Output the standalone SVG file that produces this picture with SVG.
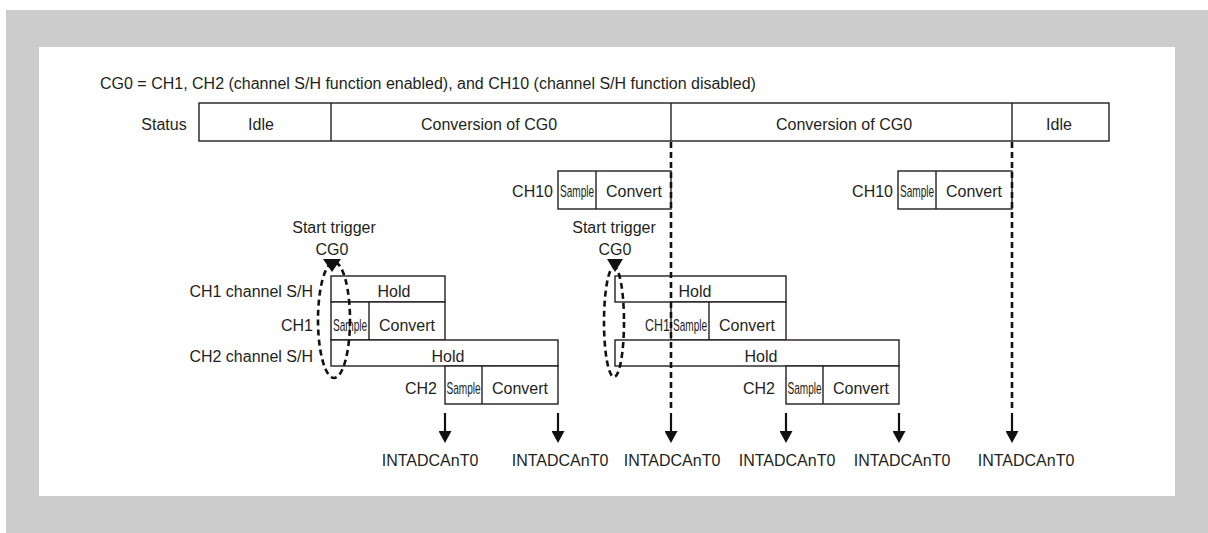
<svg xmlns="http://www.w3.org/2000/svg" width="1208" height="533" viewBox="0 0 1208 533">
<style>
text{font-family:"Liberation Sans",Arial,sans-serif;font-size:16px;fill:#231f20}
.m{text-anchor:middle}
.e{text-anchor:end}
.b{fill:#fff;stroke:#231f20;stroke-width:1.4}
.l{stroke:#231f20;stroke-width:1.4;fill:none}
.d{stroke:#111;stroke-width:2.6;stroke-dasharray:6 4;fill:none}
.a{stroke:#111;stroke-width:2.2;fill:none;marker-end:url(#ah)}
</style>
<defs>
<marker id="ah" markerWidth="12" markerHeight="13" refX="7" refY="6.5" orient="auto" markerUnits="userSpaceOnUse" viewBox="0 0 12 13">
<path d="M0,0 L12,6.5 L0,13 Z" fill="#111"/>
</marker>
</defs>
<rect x="6" y="10" width="1202" height="523" fill="#cccccc"/>
<rect x="39" y="47" width="1136" height="449" fill="#ffffff"/>
<text x="100" y="89">CG0 = CH1, CH2 (channel S/H function enabled), and CH10 (channel S/H function disabled)</text>

<g id="status">
<text class="m" x="164" y="130">Status</text>
<rect class="b" x="199" y="103" width="910" height="38"/>
<line class="l" x1="331" y1="103" x2="331" y2="141"/>
<line class="l" x1="671" y1="103" x2="671" y2="141"/>
<line class="l" x1="1012" y1="103" x2="1012" y2="141"/>
<text class="m" x="261" y="130">Idle</text>
<text class="m" x="489" y="130">Conversion of CG0</text>
<text class="m" x="844" y="130">Conversion of CG0</text>
<text class="m" x="1059" y="130">Idle</text>
</g>

<g id="ch10-a">
<text class="e" x="553" y="197">CH10</text>
<rect class="b" x="558" y="171" width="113" height="38"/>
<line class="l" x1="596" y1="171" x2="596" y2="209"/>
<text transform="translate(560,197) scale(0.63,1)">Sample</text>
<text class="m" x="634" y="197">Convert</text>
</g>

<g id="ch10-b">
<text class="e" x="893" y="197">CH10</text>
<rect class="b" x="898" y="171" width="114" height="38"/>
<line class="l" x1="936" y1="171" x2="936" y2="209"/>
<text transform="translate(900,197) scale(0.63,1)">Sample</text>
<text class="m" x="974" y="197">Convert</text>
</g>

<g id="group-left">
<text class="m" x="334" y="233">Start trigger</text>
<text class="m" x="332" y="255">CG0</text>
<text class="e" x="313" y="297">CH1 channel S/H</text>
<rect class="b" x="331" y="276" width="114" height="26"/>
<text class="m" x="394" y="297">Hold</text>
<text class="e" x="313" y="331">CH1</text>
<rect class="b" x="331" y="302" width="114" height="38"/>
<line class="l" x1="369" y1="302" x2="369" y2="340"/>
<text transform="translate(333,331) scale(0.63,1)">Sample</text>
<text class="m" x="407" y="331">Convert</text>
<text class="e" x="313" y="362">CH2 channel S/H</text>
<rect class="b" x="331" y="340" width="227" height="26"/>
<text class="m" x="448" y="362">Hold</text>
<text class="e" x="437" y="394">CH2</text>
<rect class="b" x="445" y="366" width="113" height="38"/>
<line class="l" x1="482" y1="366" x2="482" y2="404"/>
<text transform="translate(446.5,394) scale(0.63,1)">Sample</text>
<text class="m" x="520" y="394">Convert</text>
<path d="M323,259 L341,259 L332,272 Z" fill="#111"/>
<ellipse class="d" cx="334" cy="320" rx="16" ry="58"/>
</g>

<g id="group-mid">
<text class="m" x="614" y="233">Start trigger</text>
<text class="m" x="615" y="255">CG0</text>
<rect class="b" x="615" y="276" width="171" height="26"/>
<text class="m" x="695" y="297">Hold</text>
<text transform="translate(645,331) scale(0.78,1)">CH1</text>
<rect class="b" x="671" y="302" width="115" height="38"/>
<line class="l" x1="709" y1="302" x2="709" y2="340"/>
<text transform="translate(673,331) scale(0.63,1)">Sample</text>
<text class="m" x="747" y="331">Convert</text>
<rect class="b" x="615" y="340" width="284" height="26"/>
<text class="m" x="761" y="362">Hold</text>
<text class="e" x="775" y="394">CH2</text>
<rect class="b" x="786" y="366" width="113" height="38"/>
<line class="l" x1="823" y1="366" x2="823" y2="404"/>
<text transform="translate(787.5,394) scale(0.63,1)">Sample</text>
<text class="m" x="861" y="394">Convert</text>
<path d="M607,259 L623,259 L615,272 Z" fill="#111"/>
<ellipse class="d" cx="614" cy="322" rx="10" ry="55"/>
</g>

<g id="connectors">
<line class="d" x1="671" y1="142" x2="671" y2="412"/>
<line class="d" x1="1012" y1="142" x2="1012" y2="412"/>
<line class="a" x1="445" y1="413" x2="445" y2="438"/>
<line class="a" x1="558" y1="413" x2="558" y2="438"/>
<line class="a" x1="671" y1="413" x2="671" y2="438"/>
<line class="a" x1="786" y1="413" x2="786" y2="438"/>
<line class="a" x1="899" y1="413" x2="899" y2="438"/>
<line class="a" x1="1012" y1="413" x2="1012" y2="438"/>
</g>

<g id="labels">
<text class="m" x="430" y="466">INTADCAnT0</text>
<text class="m" x="560" y="466">INTADCAnT0</text>
<text class="m" x="672" y="466">INTADCAnT0</text>
<text class="m" x="787" y="466">INTADCAnT0</text>
<text class="m" x="902" y="466">INTADCAnT0</text>
<text class="m" x="1026" y="466">INTADCAnT0</text>
</g>
</svg>
